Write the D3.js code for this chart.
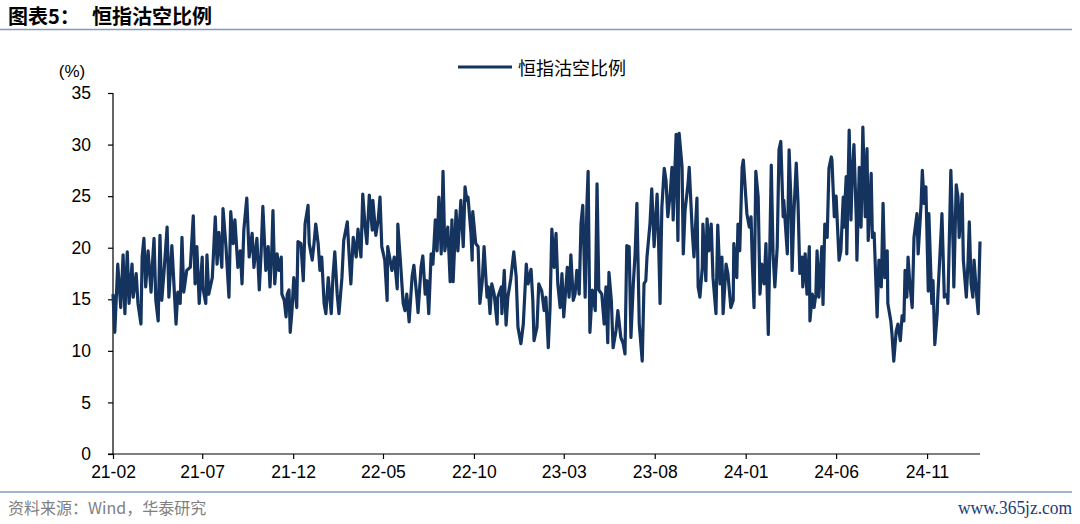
<!DOCTYPE html>
<html>
<head>
<meta charset="utf-8">
<script src="https://cdn.jsdelivr.net/npm/d3@7"></script>
<style>
  html, body { margin: 0; padding: 0; background: #ffffff; }
  svg { display: block; }
</style>
</head>
<body>
<div id="chart"></div>
<script>
// ---------------- data ----------------
const titlePrefix = "图表5：";
const seriesName = "恒指沽空比例";
const sourceText = "资料来源：Wind，华泰研究";
const watermark = "www.365jz.com";
const startDate = "2021-02-01";
// day offsets from startDate for each observation
const dayOffsets = [
  0,3,8,13,17,20,24,27,32,34,
  39,42,47,49,52,55,59,64,67,69,
  72,76,79,82,86,91,94,99,101,106,
  109,113,116,119,124,130,135,138,141,145,
  150,151,156,158,161,167,172,175,178,183,
  185,190,195,198,202,205,210,214,217,220,
  225,229,234,237,242,246,249,252,257,261,
  264,267,269,272,276,279,283,284,288,291,
  293,296,298,301,304,309,311,316,320,323,
  328,330,335,338,341,345,348,351,355,358,
  362,367,370,373,377,380,385,388,394,397,
  400,404,409,412,417,420,424,427,431,436,
  437,442,446,449,452,457,461,462,466,469,
  473,478,479,484,488,491,494,498,503,506,
  511,513,518,521,525,528,531,535,538,542,
  545,548,552,555,558,563,567,570,572,577,
  580,585,589,592,595,597,602,604,605,610,
  614,617,621,624,629,631,634,637,641,646,
  647,653,654,658,661,664,669,674,678,681,
  686,690,695,698,703,706,708,713,716,721,
  725,728,732,735,738,742,745,748,752,755,
  758,764,767,770,774,777,780,784,787,790,
  794,797,799,802,806,811,814,817,822,826,
  829,832,834,838,841,846,849,854,858,861,
  864,868,871,875,878,881,885,890,893,896,
  898,903,906,910,915,917,920,923,927,930,
  933,937,940,942,947,950,952,957,959,962,
  967,969,974,977,982,984,987,991,992,997,
  999,1002,1006,1009,1014,1017,1021,1024,1026,1031,
  1034,1039,1043,1044,1049,1051,1054,1058,1060,1063,
  1066,1070,1073,1075,1078,1081,1085,1088,1091,1095,
  1098,1102,1107,1110,1113,1117,1120,1123,1127,1128,
  1134,1137,1140,1142,1145,1149,1152,1155,1159,1160,
  1164,1167,1171,1172,1176,1179,1182,1184,1187,1192,
  1194,1197,1201,1204,1208,1209,1213,1216,1221,1224,
  1228,1229,1233,1234,1238,1241,1243,1246,1250,1251,
  1255,1258,1261,1265,1268,1270,1275,1277,1280,1285,
  1288,1292,1295,1298,1302,1303,1308,1310,1313,1317,
  1320,1324,1327,1330,1332,1335,1337,1340,1344,1347,
  1352,1354,1359,1361,1364,1367,1371,1372,1377,1379,
  1382,1386,1387,1393,1394,1398,1403,1404,1409,1413,
  1414,1418,1421,1423,1428,1430,1435,1438,1440,1443,
  1446,1448,1453,1455,1458
];
// HSI short-selling ratio (%)
const shortRatio = [
  15.5,11.8,18.4,14.2,19.3,13.6,19.6,14.6,18.4,15.2,
  17.5,14.6,12.6,19.1,20.9,16.2,19.7,15.7,19.1,20.9,
  14.9,12.9,21.2,14.9,17.8,22.0,15.2,20.2,18.1,12.6,
  15.7,14.6,21.0,15.7,17.8,18.1,23.1,16.5,20.1,14.6,
  19.1,16.2,14.6,19.3,15.5,17.1,23.0,18.4,21.5,18.1,
  23.8,20.1,15.2,23.5,20.4,22.7,18.1,19.7,16.5,21.7,
  24.8,19.1,21.4,18.1,20.9,15.9,19.4,24.0,17.8,20.1,
  16.2,19.7,23.6,16.5,19.4,17.8,19.1,15.5,14.9,13.3,
  15.5,15.9,11.8,13.9,17.1,14.2,20.6,20.4,16.8,22.3,
  24.1,20.4,18.8,20.4,22.3,20.4,17.8,19.1,14.6,13.6,
  17.1,13.6,17.3,19.6,15.5,13.6,17.1,20.7,22.5,19.4,
  16.5,21.0,19.1,21.8,19.1,25.2,22.0,20.4,25.1,21.7,
  24.6,21.2,22.7,24.9,20.1,18.8,14.9,20.1,18.8,17.8,
  19.1,16.0,22.3,18.1,14.6,13.9,15.5,12.8,17.2,18.3,
  15.2,13.7,18.1,19.2,15.5,16.8,13.6,19.4,18.4,22.7,
  19.7,24.9,19.4,27.4,19.7,22.0,16.7,22.7,16.7,23.6,
  19.7,24.6,20.1,25.9,24.6,24.9,21.4,18.8,23.5,20.4,
  20.1,14.6,16.8,20.1,15.2,16.2,13.6,16.5,15.5,12.6,
  15.2,16.2,13.6,17.8,12.5,15.2,17.0,19.6,17.2,12.3,
  10.7,12.6,18.4,16.5,17.9,14.9,11.0,12.3,16.5,15.8,
  13.9,15.2,10.3,14.2,21.8,18.1,21.4,16.5,14.2,17.5,
  13.3,18.1,15.2,19.3,14.9,15.5,17.8,15.5,22.3,24.1,
  15.2,24.3,27.4,11.8,15.9,13.9,26.2,15.9,15.5,12.6,
  16.2,10.8,17.6,14.9,10.3,12.0,13.9,11.3,10.7,9.7,
  20.2,20.1,11.3,16.5,19.4,24.3,12.6,9.0,16.5,16.8,
  19.1,22.3,25.7,20.1,25.2,21.7,14.6,23.9,27.7,26.5,
  23.0,25.2,27.8,22.7,31.0,20.7,31.1,27.8,19.4,23.6,
  26.2,27.8,21.7,19.1,24.8,16.2,15.2,18.1,22.3,16.8,
  22.8,19.7,22.3,17.1,13.6,22.2,16.5,19.1,13.6,18.4,
  17.5,14.2,14.9,20.4,17.1,22.3,19.7,27.8,28.5,25.9,
  23.3,22.0,23.0,18.8,14.2,27.4,24.9,15.5,18.4,16.5,
  20.4,11.6,28.0,19.4,16.2,20.1,29.5,30.3,23.0,24.6,
  19.4,29.5,24.6,17.8,23.3,28.2,24.3,17.5,19.1,16.2,
  19.4,15.5,20.1,12.9,15.5,14.2,15.5,19.7,15.2,20.1,
  14.5,22.3,21.0,27.7,28.8,28.5,23.0,25.0,18.8,19.7,
  24.9,22.0,26.9,19.4,31.4,22.7,26.9,30.0,22.7,18.8,
  27.8,22.0,31.7,23.0,29.6,20.7,27.2,21.0,21.4,13.3,
  18.8,16.2,24.3,17.1,19.7,14.6,12.9,11.6,9.0,11.9,
  12.6,11.0,13.4,12.9,17.8,15.2,19.1,16.5,14.2,21.0,
  23.3,19.4,24.3,27.5,24.3,25.9,15.8,23.3,14.6,16.8,
  10.6,13.6,15.2,22.0,23.3,15.2,15.5,14.6,27.5,19.7,
  16.2,26.1,24.9,21.0,25.2,18.8,15.2,18.8,22.5,16.5,
  15.2,18.8,14.9,13.6,20.6
];
const xTickLabels = ["21-02","21-07","21-12","22-05","22-10","23-03","23-08","24-01","24-06","24-11"];
const yTicks = [0, 5, 10, 15, 20, 25, 30, 35];
const yDomain = [0, 35];
const yUnit = "(%)";

// ---------------- drawing ----------------
const W = 1080, H = 524;
const svg = d3.select("#chart").append("svg").attr("width", W).attr("height", H);

const parseDay = d3.timeParse("%Y-%m-%d");
const start = parseDay(startDate);
const data = dayOffsets.map((o, i) => ({ date: d3.timeDay.offset(start, o), value: shortRatio[i] }));
const endDate = d3.timeDay.offset(start, dayOffsets[dayOffsets.length - 1]);

const x = d3.scaleTime().domain([start, endDate]).range([113, 980]);
const y = d3.scaleLinear().domain(yDomain).range([454, 93]);

const tickParse = d3.timeParse("%y-%m");
const xTickDates = xTickLabels.map(tickParse);

const axisFont = "'Liberation Sans', Arial, sans-serif";
const cjkFont = "'Noto Sans CJK SC', 'Noto Sans', sans-serif";

// header
const title = svg.append("text")
  .attr("y", 24)
  .attr("font-family", cjkFont)
  .attr("font-weight", "bold")
  .attr("font-size", 20)
  .attr("fill", "#000");
title.append("tspan").attr("x", 8).text(titlePrefix);
title.append("tspan").attr("x", 92).text(seriesName);
svg.append("line")
  .attr("x1", 0).attr("x2", 1072).attr("y1", 29.5).attr("y2", 29.5)
  .attr("stroke", "#7f9ac4").attr("stroke-width", 1.6);

// footer
svg.append("line")
  .attr("x1", 0).attr("x2", 1072).attr("y1", 492).attr("y2", 492)
  .attr("stroke", "#7f9ac4").attr("stroke-width", 1.6);
svg.append("text")
  .attr("x", 8).attr("y", 514)
  .attr("font-family", cjkFont)
  .attr("font-size", 16)
  .attr("fill", "#808080")
  .text(sourceText);
svg.append("text")
  .attr("x", 1072).attr("y", 514)
  .attr("text-anchor", "end")
  .attr("font-family", "'Liberation Serif', 'DejaVu Serif', serif")
  .attr("font-size", 18)
  .attr("fill", "#1d3c78")
  .attr("textLength", 114)
  .attr("lengthAdjust", "spacingAndGlyphs")
  .text(watermark);

// y axis
const yAxis = d3.axisLeft(y).tickValues(yTicks).tickSize(5).tickPadding(17).tickFormat(d3.format("d"));
const gy = svg.append("g").attr("transform", "translate(113,0)").call(yAxis);
gy.select(".domain").attr("stroke", "#000").attr("stroke-width", 1.2).attr("d", "M-5,93.5H0V454");
gy.selectAll(".tick line").attr("stroke", "#000").attr("stroke-width", 1.2);
gy.selectAll(".tick text").attr("font-family", axisFont).attr("font-size", 17.5).attr("fill", "#000");

svg.append("text")
  .attr("x", 72).attr("y", 77)
  .attr("text-anchor", "middle")
  .attr("font-family", axisFont)
  .attr("font-size", 17)
  .attr("fill", "#000")
  .text(yUnit);

// x axis
const xAxis = d3.axisBottom(x).tickValues(xTickDates).tickSize(5).tickPadding(7)
  .tickFormat((d, i) => xTickLabels[i]);
const gx = svg.append("g").attr("transform", "translate(0,454)").call(xAxis);
gx.select(".domain").attr("stroke", "#000").attr("stroke-width", 1.2).attr("d", "M108,0H980");
gx.selectAll(".tick line").attr("stroke", "#000").attr("stroke-width", 1.2);
gx.selectAll(".tick text").attr("font-family", axisFont).attr("font-size", 17.5).attr("fill", "#000");

// series line
const line = d3.line().x(d => x(d.date)).y(d => y(d.value));
svg.append("path")
  .datum(data)
  .attr("d", line)
  .attr("fill", "none")
  .attr("stroke", "#14345f")
  .attr("stroke-width", 3.2)
  .attr("stroke-linejoin", "round");

// legend
svg.append("line")
  .attr("x1", 458).attr("x2", 512).attr("y1", 67).attr("y2", 67)
  .attr("stroke", "#14345f").attr("stroke-width", 3.2);
svg.append("text")
  .attr("x", 518).attr("y", 67)
  .attr("dominant-baseline", "central")
  .attr("font-family", cjkFont)
  .attr("font-size", 18)
  .attr("fill", "#000")
  .text(seriesName);
</script>
</body>
</html>
